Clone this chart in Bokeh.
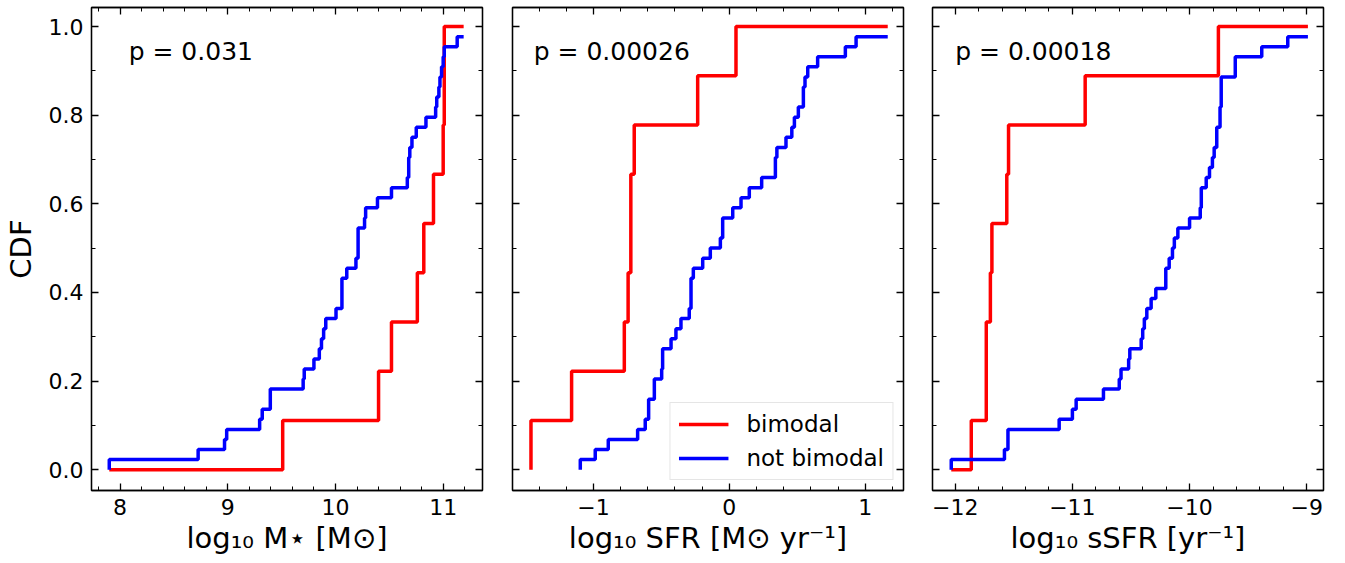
from bokeh.plotting import figure
from bokeh.models import LinearAxis, FixedTicker, Label, Legend, LegendItem, Range1d
from bokeh.layouts import row
from bokeh.embed import file_html
from bokeh.resources import INLINE

FONT = "DejaVu Sans"

# ---------------- data ----------------
n_bimodal = 9
n_not_bimodal = 44
series_labels = ["bimodal", "not bimodal"]
p_values = ["p = 0.031", "p = 0.00026", "p = 0.00018"]
x_titles = ["log\u2081\u2080 M\u22c6 [M\u2299]", "log\u2081\u2080 SFR [M\u2299 yr\u207b\u00b9]", "log\u2081\u2080 sSFR [yr\u207b\u00b9]"]
y_title = "CDF"

# panel 1: stellar mass
mstar_bi_x = [7.90, 9.51, 10.40, 10.52, 10.76, 10.82, 10.91, 11.00, 11.01, 11.19]
mstar_bi_n = [0, 1, 2, 3, 4, 5, 6, 7, 9, 9]
mstar_nb_x = [7.90, 7.90, 8.725, 8.97, 8.99, 9.296, 9.32, 9.395, 9.70, 9.71, 9.80, 9.85, 9.87, 9.89,
              9.91, 10.005, 10.06, 10.105, 10.19, 10.21, 10.27, 10.28, 10.39, 10.52, 10.667, 10.68,
              10.69, 10.71, 10.75, 10.84, 10.93, 10.94, 10.96, 10.97, 10.985, 11.0, 11.01, 11.13, 11.19]
mstar_nb_n = [0, 1, 2, 3, 4, 5, 6, 8, 9, 10, 11, 12, 13, 14, 15, 16, 19, 20, 21, 24, 25, 26, 27, 28,
              29, 31, 32, 33, 34, 35, 36, 37, 38, 39, 40, 41, 42, 43, 43]

# panel 2: SFR
sfr_bi_x = [-1.46, -1.46, -1.161, -0.773, -0.745, -0.725, -0.70, -0.233, 0.049, 1.166]
sfr_bi_n = [0, 1, 2, 3, 4, 6, 7, 8, 9, 9]
sfr_nb_x = [-1.097, -1.097, -0.987, -0.891, -0.675, -0.619, -0.594, -0.552, -0.498, -0.491, -0.429,
            -0.393, -0.356, -0.295, -0.282, -0.265, -0.196, -0.14, -0.066, -0.049, 0.025, 0.086,
            0.147, 0.238, 0.339, 0.35, 0.417, 0.46, 0.479, 0.508, 0.545, 0.557, 0.577, 0.65, 0.854,
            0.933, 1.166]
sfr_nb_n = [0, 1, 2, 3, 4, 5, 7, 9, 10, 12, 13, 14, 15, 16, 19, 20, 21, 22, 23, 25, 26, 27, 28, 29,
            31, 32, 33, 34, 35, 36, 38, 39, 40, 41, 42, 43, 43]

# panel 3: sSFR
ssfr_bi_x = [-12.034, -11.863, -11.735, -11.70, -11.687, -11.56, -11.545, -10.891, -9.754, -8.99]
ssfr_bi_n = [0, 1, 3, 4, 5, 6, 7, 8, 9, 9]
ssfr_nb_x = [-12.034, -12.034, -11.58, -11.55, -11.113, -11.0, -10.968, -10.735, -10.60, -10.585,
             -10.52, -10.51, -10.413, -10.40, -10.386, -10.365, -10.328, -10.288, -10.203, -10.174,
             -10.146, -10.13, -10.10, -10.0, -9.909, -9.90, -9.858, -9.83, -9.805, -9.79, -9.768,
             -9.74, -9.73, -9.61, -9.384, -9.162, -8.99]
ssfr_nb_n = [0, 1, 2, 4, 5, 6, 7, 8, 9, 10, 11, 12, 13, 14, 15, 16, 17, 18, 20, 21, 22, 23, 24, 25,
             26, 28, 29, 30, 31, 32, 34, 36, 39, 41, 42, 43, 43]

# ticks
x1_ticks = [8, 9, 10, 11]
x1_labels = ["8", "9", "10", "11"]
x2_ticks = [-1, 0, 1]
x2_labels = ["\u22121", "0", "1"]
x3_ticks = [-12, -11, -10, -9]
x3_labels = ["\u221212", "\u221211", "\u221210", "\u22129"]
y_ticks = [0.0, 0.2, 0.4, 0.6, 0.8, 1.0]
y_labels = ["0.0", "0.2", "0.4", "0.6", "0.8", "1.0"]
y_minor = [0.1, 0.3, 0.5, 0.7, 0.9]
x_minor_step = 0.2

x_ranges = [(7.735, 11.365), (-1.596, 1.282), (-12.194, -8.857)]
y_range = (-0.047, 1.043)
p_text_x = [8.08, -1.44, -12.0]
p_text_y = 0.943

panels = [
    (mstar_bi_x, mstar_bi_n, mstar_nb_x, mstar_nb_n, x1_ticks, x1_labels),
    (sfr_bi_x, sfr_bi_n, sfr_nb_x, sfr_nb_n, x2_ticks, x2_labels),
    (ssfr_bi_x, ssfr_bi_n, ssfr_nb_x, ssfr_nb_n, x3_ticks, x3_labels),
]

borders = [(85, 15), (15, 15), (14, 10)]


def minor_list(lo, hi, step):
    out = []
    k = int(round(lo / step)) - 1
    while k * step <= hi + 1e-9:
        v = round(k * step, 6)
        if lo <= v <= hi:
            out.append(v)
        k += 1
    return out


def style_axis(ax, ticks, minor, labels, show):
    ax.ticker = FixedTicker(ticks=ticks, minor_ticks=minor)
    ax.major_tick_in = 7
    ax.major_tick_out = 0
    ax.minor_tick_in = 4
    ax.minor_tick_out = 0
    ax.major_tick_line_width = 1.3
    ax.minor_tick_line_width = 1.0
    ax.major_tick_line_color = "black"
    ax.minor_tick_line_color = "black"
    ax.axis_line_color = "black"
    ax.axis_line_width = 1.3
    if show:
        ax.major_label_overrides = dict(zip(ticks, labels))
        ax.major_label_text_font = FONT
        ax.major_label_text_font_size = "22px"
        ax.major_label_text_color = "black"
        ax.major_label_standoff = 13 if ax.dimension == 0 else 8
    else:
        ax.major_label_text_font_size = "0px"
        ax.major_label_text_color = None
        ax.major_label_text_alpha = 0
        ax.major_label_standoff = 0


figs = []
for i, (bx, bn, nx, nn, xt, xl) in enumerate(panels):
    lb, rb = borders[i]
    p = figure(frame_width=391, frame_height=483, output_backend="svg", toolbar_location=None,
               x_range=Range1d(*x_ranges[i]), y_range=Range1d(*y_range),
               min_border_left=lb, min_border_right=rb, min_border_top=7, min_border_bottom=0,
               background_fill_color="white", border_fill_color="white")
    p.xgrid.visible = False
    p.ygrid.visible = False
    p.outline_line_color = "black"
    p.outline_line_width = 1.3
    p.outline_line_alpha = 1.0

    xm = minor_list(x_ranges[i][0], x_ranges[i][1], x_minor_step)
    style_axis(p.xaxis[0], xt, xm, xl, True)
    style_axis(p.yaxis[0], y_ticks, y_minor, y_labels, i == 0)
    p.xaxis[0].axis_label = x_titles[i]
    p.xaxis[0].axis_label_text_font = FONT
    p.xaxis[0].axis_label_text_font_size = "29px"
    p.xaxis[0].axis_label_text_font_style = "normal"
    p.xaxis[0].axis_label_text_color = "black"
    p.xaxis[0].axis_label_standoff = 3
    if i == 0:
        p.yaxis[0].axis_label = y_title
        p.yaxis[0].axis_label_text_font = FONT
        p.yaxis[0].axis_label_text_font_size = "29px"
        p.yaxis[0].axis_label_text_font_style = "normal"
        p.yaxis[0].axis_label_text_color = "black"
        p.yaxis[0].axis_label_standoff = 8

    top = LinearAxis()
    style_axis(top, xt, xm, xl, False)
    p.add_layout(top, "above")
    right = LinearAxis()
    style_axis(right, y_ticks, y_minor, y_labels, False)
    p.add_layout(right, "right")

    r_red = p.step([float(v) for v in bx], [c / n_bimodal for c in bn], mode="after",
                   line_color="#ff0000", line_width=3.5)
    r_blue = p.step([float(v) for v in nx], [c / n_not_bimodal for c in nn], mode="after",
                    line_color="#0000ff", line_width=3.5)

    p.add_layout(Label(x=p_text_x[i], y=p_text_y, text=p_values[i], text_font=FONT,
                       text_font_size="25px", text_color="black", text_baseline="alphabetic"))

    if i == 1:
        legend = Legend(items=[LegendItem(label=series_labels[0], renderers=[r_red]),
                               LegendItem(label=series_labels[1], renderers=[r_blue])],
                        location="bottom_right")
        legend.label_text_font = FONT
        legend.label_text_font_size = "23px"
        legend.label_text_color = "black"
        legend.glyph_width = 50
        legend.glyph_height = 26
        legend.label_height = 26
        legend.label_standoff = 18
        legend.spacing = 8
        legend.padding = 8
        legend.margin = 10
        legend.border_line_color = "#cccccc"
        legend.border_line_width = 1.3
        legend.background_fill_alpha = 0.8
        p.add_layout(legend)
    figs.append(p)

layout = row(*figs)
open("out.html", "w").write(file_html(layout, INLINE))
